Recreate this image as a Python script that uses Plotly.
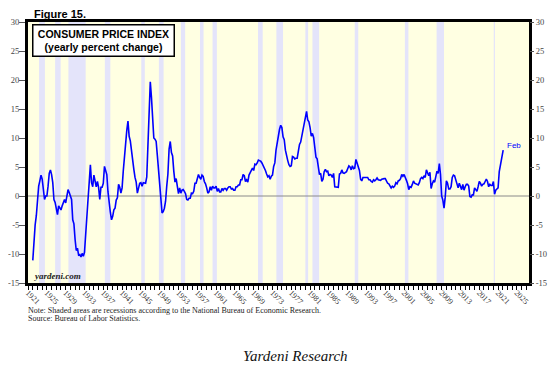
import plotly.graph_objects as go

# ---------------- data ----------------
first_year = 1922
# CPI yearly % change, quarterly readings (Jan, Apr, Jul, Oct)
cpi_yoy = [
    -11.1, -7.0, -5.0, -3.4,   # 1922
    -0.6, 1.7, 2.6, 3.6,       # 1923
    2.9, 0.6, -0.6, 0.0,       # 1924
    0.0, 1.7, 3.9, 4.5,        # 1925
    3.7, 2.3, -0.6, -1.1,      # 1926
    -2.2, -3.2, -1.7, -2.2,    # 1927
    -2.4, -1.7, -1.2, -0.6,    # 1928
    -1.2, 0.0, 1.1, 0.6,       # 1929
    0.0, -0.6, -4.1, -4.8,     # 1930
    -7.5, -9.4, -9.0, -10.2,   # 1931
    -10.1, -10.5, -9.9, -10.4, # 1932
    -9.7, -6.0, -2.3, -0.6,    # 1933
    2.3, 5.4, 2.3, 1.6,        # 1934
    3.6, 2.5, 1.6, 2.5,        # 1935
    1.5, -0.6, 1.5, 1.5,       # 1936
    2.2, 5.1, 4.3, 3.7,        # 1937
    0.7, -1.8, -2.8, -4.1,     # 1938
    -3.5, -2.4, -2.1, -0.7,    # 1939
    -0.3, 2.0, 1.5, 0.5,       # 1940
    1.4, 4.3, 6.9, 9.3,        # 1941
    11.3, 12.9, 10.3, 9.5,     # 1942
    7.6, 6.9, 4.6, 3.2,        # 1943
    2.4, 0.5, 1.6, 2.2,        # 1944
    2.3, 1.7, 2.3, 2.2,        # 1945
    2.2, 3.3, 9.9, 16.5,       # 1946
    19.7, 17.0, 12.9, 10.0,    # 1947
    9.8, 9.4, 7.0, 4.0,        # 1948
    1.3, -0.4, -2.9, -2.7,     # 1949
    -2.1, -0.9, 1.7, 3.8,      # 1950
    8.1, 9.4, 7.5, 6.9,        # 1951
    4.3, 2.4, 3.0, 1.9,        # 1952
    0.4, 1.4, 0.5, 1.0,        # 1953
    1.1, 0.8, 0.4, -0.6,       # 1954
    -0.7, -0.4, -0.4, 0.5,     # 1955
    0.4, 0.8, 2.2, 2.2,        # 1956
    2.9, 3.7, 3.2, 2.9,        # 1957
    3.6, 3.4, 2.5, 2.1,        # 1958
    1.4, 0.5, 0.7, 1.6,        # 1959
    1.0, 1.7, 1.4, 1.4,        # 1960
    1.7, 0.8, 1.3, 0.7,        # 1961
    0.7, 1.3, 1.0, 1.3,        # 1962
    1.3, 1.0, 1.4, 1.6,        # 1963
    1.6, 1.2, 1.3, 1.0,        # 1964
    1.0, 1.6, 1.6, 1.9,        # 1965
    1.9, 2.8, 2.8, 3.7,        # 1966
    3.5, 2.5, 2.8, 2.4,        # 1967
    3.6, 3.9, 4.4, 4.8,        # 1968
    4.4, 5.5, 5.4, 5.7,        # 1969
    6.2, 6.1, 6.0, 5.7,        # 1970
    5.3, 4.8, 4.4, 3.8,        # 1971
    3.3, 3.5, 2.9, 3.4,        # 1972
    3.6, 5.1, 5.7, 7.9,        # 1973
    9.4, 10.6, 11.5, 12.2,     # 1974
    11.8, 10.2, 9.7, 7.9,      # 1975
    6.7, 6.1, 5.4, 5.1,        # 1976
    5.2, 6.8, 6.7, 6.4,        # 1977
    6.5, 6.5, 7.7, 8.9,        # 1978
    9.3, 10.4, 11.3, 12.2,     # 1979
    13.9, 14.6, 13.1, 12.8,    # 1980
    11.8, 10.3, 10.8, 10.1,    # 1981
    8.4, 6.7, 6.4, 5.1,        # 1982
    3.7, 3.9, 2.5, 2.9,        # 1983
    4.2, 4.6, 4.2, 4.3,        # 1984
    3.5, 3.7, 3.6, 3.2,        # 1985
    3.9, 1.6, 1.6, 1.5,        # 1986
    1.5, 3.8, 3.9, 4.5,        # 1987
    4.0, 3.9, 4.1, 4.2,        # 1988
    4.7, 5.2, 5.0, 4.5,        # 1989
    5.2, 4.7, 4.8, 6.3,        # 1990
    5.7, 4.9, 4.4, 2.9,        # 1991
    2.6, 3.2, 3.2, 3.2,        # 1992
    3.3, 3.2, 2.8, 2.8,        # 1993
    2.5, 2.4, 2.8, 2.6,        # 1994
    2.8, 3.1, 2.8, 2.8,        # 1995
    2.7, 2.9, 3.0, 3.0,        # 1996
    3.0, 2.5, 2.2, 2.1,        # 1997
    1.6, 1.4, 1.7, 1.5,        # 1998
    1.7, 2.3, 2.1, 2.6,        # 1999
    2.7, 3.0, 3.7, 3.4,        # 2000
    3.7, 3.3, 2.7, 2.1,        # 2001
    1.1, 1.6, 1.5, 2.0,        # 2002
    2.6, 2.2, 2.1, 2.0,        # 2003
    1.9, 2.3, 3.0, 3.2,        # 2004
    3.0, 3.5, 3.2, 4.5,        # 2005
    4.0, 3.5, 4.1, 1.3,        # 2006
    2.1, 2.6, 2.4, 3.5,        # 2007
    4.3, 3.9, 5.6, 3.7,        # 2008
    0.0, -0.7, -2.1, -0.2,     # 2009
    2.6, 2.2, 1.2, 1.2,        # 2010
    1.6, 3.2, 3.6, 3.5,        # 2011
    2.9, 2.3, 1.4, 2.2,        # 2012
    1.6, 1.1, 2.0, 1.0,        # 2013
    1.6, 2.0, 2.0, 1.7,        # 2014
    -0.1, -0.2, 0.2, 0.2,      # 2015
    1.4, 1.1, 0.8, 1.6,        # 2016
    2.5, 2.2, 1.7, 2.0,        # 2017
    2.1, 2.5, 2.9, 2.5,        # 2018
    1.6, 2.0, 1.8, 1.8,        # 2019
    2.5, 0.3, 1.0, 1.2,        # 2020
    1.4, 4.2, 5.4, 6.2,        # 2021
    7.5,                       # 2022 Jan
]
latest_date = 2022 + 1 / 12   # Feb 2022
latest_value = 7.9
latest_label = "Feb"

# NBER recessions (peak, trough) in decimal years
rec_start = [1923.33, 1926.75, 1929.58, 1937.33, 1945.08, 1948.83, 1953.5, 1957.58,
             1960.25, 1969.92, 1973.83, 1980.0, 1981.5, 1990.5, 2001.17, 2007.92, 2020.08]
rec_end = [1924.58, 1927.92, 1933.25, 1938.5, 1945.83, 1949.83, 1954.42, 1958.33,
           1961.17, 1970.92, 1975.25, 1980.58, 1982.92, 1991.25, 2001.92, 2009.5, 2020.33]

tick_years = list(range(1921, 2026, 4))
tick_labels = [str(y) for y in tick_years]
y_ticks = list(range(-15, 31, 5))
y_tick_labels = [str(v) for v in y_ticks]   # plain hyphen for negatives

# ---------------- figure ----------------
x_vals = [first_year + i * 0.25 for i in range(len(cpi_yoy))] + [latest_date]
y_vals = cpi_yoy + [latest_value]

SERIF = "Liberation Serif, Times New Roman, serif"
SANS = "Liberation Sans, Arial, sans-serif"

fig = go.Figure()
fig.add_trace(go.Scatter(x=x_vals, y=y_vals, mode="lines",
                         line=dict(color="#0000FF", width=1.6), hoverinfo="skip",
                         showlegend=False))
fig.add_trace(go.Scatter(x=[1930], y=[0], yaxis="y2", mode="markers",
                         marker=dict(opacity=0), showlegend=False, hoverinfo="skip"))

shapes = []
for s, e in zip(rec_start, rec_end):
    shapes.append(dict(type="rect", xref="x", yref="paper", x0=s, x1=e, y0=0, y1=1,
                       fillcolor="#E4E4FA", line=dict(width=0), layer="below"))
shapes.append(dict(type="line", xref="paper", yref="y", x0=0, x1=1, y0=0, y1=0,
                   line=dict(color="#8A8A8A", width=1), layer="below"))
fig.update_layout(shapes=shapes)

# page has an 8px body margin, so the figure is offset by 8px
fig.update_layout(
    width=542, height=362,
    margin=dict(l=20, r=21, t=14, b=87, autoexpand=False),
    paper_bgcolor="white",
    plot_bgcolor="#FFFFE2",
    xaxis=dict(range=[1920.98, 2027.58], tickmode="array", tickvals=tick_years,
               ticktext=tick_labels, tickangle=45, ticks="outside", ticklen=4,
               tickcolor="black", tickwidth=1, automargin=False, ticklabelstandoff=-5,
               minor=dict(dtick=1, tick0=1921, ticks="outside", ticklen=4, tickcolor="black"),
               showline=True, linewidth=3, linecolor="black", mirror=True,
               showgrid=False, zeroline=False,
               tickfont=dict(family=SERIF, size=8, color="#333333")),
    yaxis=dict(range=[-15, 30], tickmode="array", tickvals=y_ticks, ticktext=y_tick_labels,
               automargin=False,
               ticks="outside", ticklen=6, tickcolor="#555555", ticklabelstandoff=-2,
               showline=True, linewidth=3, linecolor="black", mirror=True,
               showgrid=False, zeroline=False,
               tickfont=dict(family=SERIF, size=8.5, color="#444444")),
    yaxis2=dict(range=[-15, 30], tickmode="array", tickvals=y_ticks, ticktext=y_tick_labels,
                overlaying="y",
                side="right", ticks="outside", ticklen=4, tickcolor="#555555",
                showline=False, showgrid=False, zeroline=False, automargin=False,
                tickfont=dict(family=SERIF, size=8.5, color="#444444")),
)

ann = []
ann.append(dict(xref="paper", yref="paper", x=0.008, y=1.032, xanchor="left", yanchor="middle",
                text="<b>Figure 15.</b>", showarrow=False,
                font=dict(family=SANS, size=11, color="black")))
ann.append(dict(xref="paper", yref="paper", x=0.008, y=0.992, xanchor="left", yanchor="top",
                text="<b>CONSUMER PRICE INDEX<br>(yearly percent change)</b>", showarrow=False,
                align="center", bgcolor="white", bordercolor="black", borderwidth=1.5,
                borderpad=2, width=136,
                font=dict(family=SANS, size=10.5, color="black")))
ann.append(dict(xref="paper", yref="paper", x=0.008, y=0.025, xanchor="left", yanchor="middle",
                text="<b><i>yardeni.com</i></b>", showarrow=False,
                font=dict(family=SERIF, size=9, color="#222222")))
ann.append(dict(xref="x", yref="y", x=latest_date, y=latest_value, xanchor="left",
                yanchor="bottom", xshift=2, yshift=-2, text=latest_label, showarrow=False,
                font=dict(family=SANS, size=8, color="#0000FF")))
ann.append(dict(xref="paper", yref="paper", x=-0.004, y=-0.106, xanchor="left", yanchor="middle",
                text="Note: Shaded areas are recessions according to the National Bureau of Economic Research.",
                showarrow=False, font=dict(family=SERIF, size=8, color="#222222")))
ann.append(dict(xref="paper", yref="paper", x=-0.004, y=-0.137, xanchor="left", yanchor="middle",
                text="Source: Bureau of Labor Statistics.",
                showarrow=False, font=dict(family=SERIF, size=8, color="#222222")))
ann.append(dict(xref="paper", yref="paper", x=0.533, y=-0.28, xanchor="center", yanchor="middle",
                text="<i>Yardeni Research</i>",
                showarrow=False, font=dict(family=SERIF, size=15, color="#111111")))
fig.update_layout(annotations=ann)

fig.write_html("out.html")
